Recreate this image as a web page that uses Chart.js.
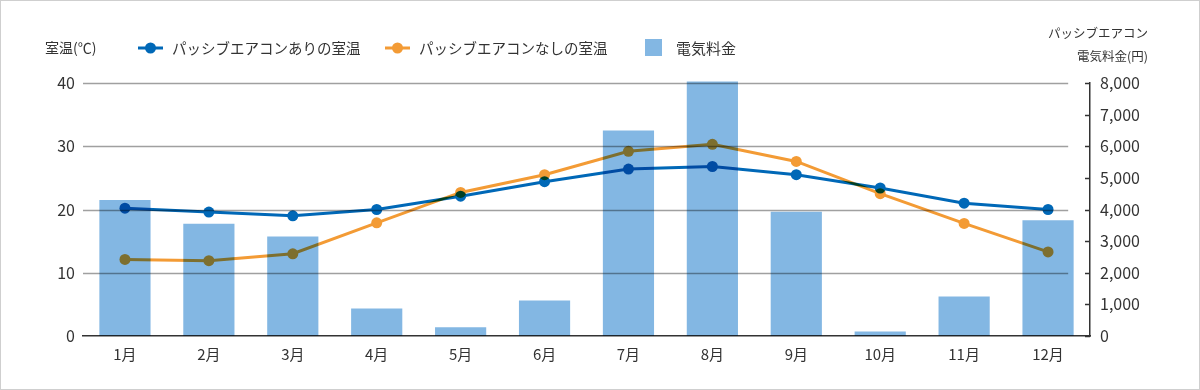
<!DOCTYPE html>
<html>
<head>
<meta charset="utf-8">
<script src="https://cdn.jsdelivr.net/npm/chart.js@4"></script>
<style>
html,body{margin:0;padding:0;background:#fff;}
#wrap{width:1200px;height:390px;position:relative;}
canvas{display:block;}
</style>
</head>
<body>
<div id="wrap"><canvas id="c" width="1200" height="390"></canvas></div>
<script>
// ---- data ----
const categories = ['1月','2月','3月','4月','5月','6月','7月','8月','9月','10月','11月','12月'];
const tempWithAC = [20.2, 19.6, 19.0, 20.0, 22.1, 24.4, 26.4, 26.8, 25.5, 23.4, 21.0, 20.0];
const tempWithoutAC = [12.1, 11.9, 13.0, 17.9, 22.7, 25.5, 29.2, 30.3, 27.6, 22.5, 17.8, 13.3];
const electricityCost = [4300, 3550, 3150, 870, 280, 1120, 6500, 8050, 3930, 140, 1250, 3660];
const seriesLabels = ['パッシブエアコンありの室温', 'パッシブエアコンなしの室温', '電気料金'];
const leftAxisTitle = '室温(℃)';
const rightAxisTitle = ['パッシブエアコン', '電気料金(円)'];

const BLUE = '#0068b7', ORANGE = '#f39b35', BAR = '#83b7e3', TEXT = '#333';
const FONT = "'Noto Sans CJK JP', 'Noto Sans', sans-serif";

// Each dataset is rendered on its own layer and multiplied onto the chart
const multiplyLayers = {
  id: 'multiplyLayers',
  beforeDatasetDraw(chart, args) {
    const c = args.meta.controller;
    if (!c || !('_ctx' in c)) return;
    let off = chart.$off;
    if (!off) { off = document.createElement('canvas'); chart.$off = off; }
    off.width = chart.canvas.width; off.height = chart.canvas.height;
    const octx = off.getContext('2d');
    octx.setTransform(chart.ctx.getTransform());
    c.$origCtx = c._ctx; c._ctx = octx;
  },
  afterDatasetDraw(chart, args) {
    const c = args.meta.controller;
    if (!c || !c.$origCtx) return;
    c._ctx = c.$origCtx; delete c.$origCtx;
    const ctx = chart.ctx;
    ctx.save();
    ctx.setTransform(1,0,0,1,0,0);
    ctx.globalCompositeOperation = 'multiply';
    ctx.drawImage(chart.$off, 0, 0);
    ctx.restore();
  }
};

const decor = {
  id: 'decor',
  beforeDatasetsDraw(chart) {
    const ctx = chart.ctx, y = chart.scales.y, x = chart.scales.x, a = chart.chartArea;
    const right = x.getPixelForValue(categories.length - 1) + (x.width / categories.length) * 0.24;
    ctx.save();
    ctx.strokeStyle = '#a0a0a0';
    ctx.lineWidth = 1.5;
    y.ticks.forEach(t => {
      if (t.value === 0) return;
      const py = Math.round(y.getPixelForValue(t.value)) + 0.5;
      ctx.beginPath(); ctx.moveTo(a.left, py); ctx.lineTo(right, py); ctx.stroke();
    });
    ctx.restore();
  },
  afterDraw(chart) {
    const ctx = chart.ctx, y2 = chart.scales.y2, a = chart.chartArea;
    ctx.save();
    // inward tick marks on the right axis
    ctx.strokeStyle = TEXT; ctx.lineWidth = 1.5;
    y2.ticks.forEach(t => {
      const py = Math.round(y2.getPixelForValue(t.value)) + 0.5;
      ctx.beginPath(); ctx.moveTo(a.right - 5, py); ctx.lineTo(a.right, py); ctx.stroke();
    });
    // left title
    ctx.fillStyle = TEXT;
    ctx.textBaseline = 'middle';
    ctx.font = '14px ' + FONT;
    ctx.textAlign = 'left';
    ctx.fillText(leftAxisTitle, 45, 48);
    // legend
    const ds = chart.data.datasets;
    const items = [
      {x: 138, ds: ds[0]}, {x: 385, ds: ds[1]}, {x: 645, ds: ds[2]}
    ];
    items.forEach((it, i) => {
      const d = it.ds;
      if (d.type === 'line') {
        ctx.font = '14.5px ' + FONT;
        ctx.strokeStyle = d.borderColor; ctx.lineWidth = 3;
        ctx.beginPath(); ctx.moveTo(it.x, 48); ctx.lineTo(it.x + 25, 48); ctx.stroke();
        ctx.fillStyle = d.borderColor;
        ctx.beginPath(); ctx.arc(it.x + 12.5, 48, 5.5, 0, Math.PI * 2); ctx.fill();
        ctx.fillStyle = TEXT;
        ctx.fillText(d.label, it.x + 34, 48);
      } else {
        ctx.font = '15px ' + FONT;
        ctx.fillStyle = d.backgroundColor;
        ctx.fillRect(it.x, 39, 17, 17);
        ctx.fillStyle = TEXT;
        ctx.fillText(d.label, it.x + 31, 48);
      }
    });
    // right title
    ctx.font = '12.5px ' + FONT;
    ctx.textAlign = 'right';
    ctx.fillText(rightAxisTitle[0], 1148, 33);
    ctx.fillText(rightAxisTitle[1], 1148, 56);
    // frame
    ctx.strokeStyle = '#cfcfcf'; ctx.lineWidth = 1;
    ctx.strokeRect(0.5, 0.5, chart.width - 1, chart.height - 1);
    ctx.restore();
  }
};

Chart.defaults.font.family = FONT;
Chart.defaults.color = TEXT;

new Chart(document.getElementById('c'), {
  type: 'bar',
  data: {
    labels: categories,
    datasets: [
      { type: 'line', label: seriesLabels[0], data: tempWithAC, yAxisID: 'y',
        borderColor: BLUE, backgroundColor: BLUE, borderWidth: 3,
        pointRadius: 5.5, pointBackgroundColor: BLUE, pointBorderWidth: 0,
        tension: 0, clip: false },
      { type: 'line', label: seriesLabels[1], data: tempWithoutAC, yAxisID: 'y',
        borderColor: ORANGE, backgroundColor: ORANGE, borderWidth: 3,
        pointRadius: 5.5, pointBackgroundColor: ORANGE, pointBorderWidth: 0,
        tension: 0, clip: false },
      { type: 'bar', label: seriesLabels[2], data: electricityCost, yAxisID: 'y2',
        backgroundColor: BAR, borderWidth: 0,
        barPercentage: 0.61, categoryPercentage: 1, clip: false }
    ]
  },
  options: {
    responsive: false,
    animation: false,
    layout: { padding: { top: 83, left: 0, right: 0, bottom: 0 } },
    plugins: { legend: { display: false }, tooltip: { enabled: false } },
    scales: {
      x: {
        grid: { display: false, drawTicks: false },
        border: { display: true, color: TEXT, width: 1.5 },
        ticks: { padding: 9, font: { size: 15 }, color: TEXT, maxRotation: 0 },
        afterFit(s) { s.height = 54; }
      },
      y: {
        position: 'left', min: 0, max: 40,
        ticks: { stepSize: 10, padding: 8, font: { size: 16 }, color: TEXT },
        grid: { display: false, drawTicks: false },
        border: { display: false },
        afterFit(s) { s.width = 83; }
      },
      y2: {
        position: 'right', min: 0, max: 8000,
        ticks: { stepSize: 1000, padding: 10, font: { size: 16 }, color: TEXT,
                 callback: v => v.toLocaleString('en-US') },
        grid: { display: false, drawTicks: false },
        border: { display: true, color: TEXT, width: 1.5 },
        afterFit(s) { s.width = 110; }
      }
    }
  },
  plugins: [multiplyLayers, decor]
});
</script>
</body>
</html>
